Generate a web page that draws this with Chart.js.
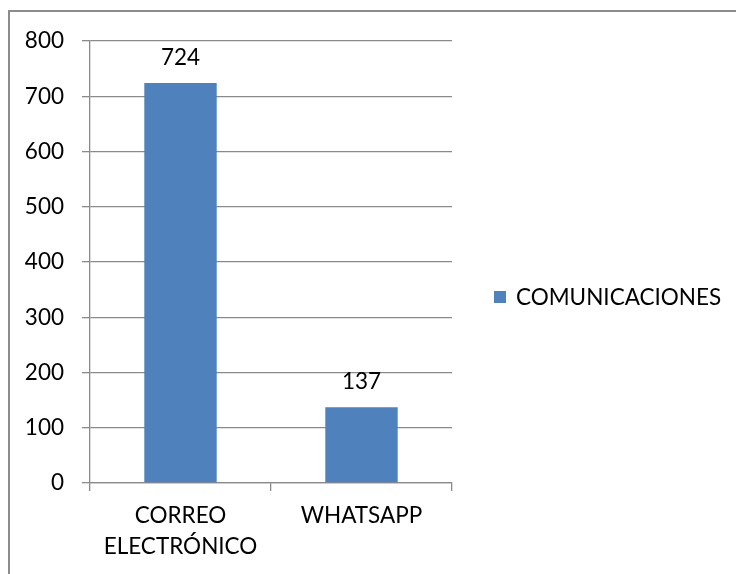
<!DOCTYPE html>
<html>
<head>
<meta charset="utf-8">
<script src="https://cdn.jsdelivr.net/npm/chart.js@4"></script>
<style>
  html, body { margin: 0; padding: 0; background: #fff; }
  .frame { position: absolute; left: 8px; top: 10px; width: 900px; height: 700px;
           border-left: 2px solid #8c8c8c; border-top: 2px solid #8c8c8c; }
  .wrap { position: absolute; left: 0; top: 0; width: 736px; height: 574px; }
</style>
</head>
<body>
<div class="frame"></div>
<div class="wrap"><canvas id="chart" width="736" height="574"></canvas></div>
<script>
const categories = [['CORREO', 'ELECTRÓNICO'], 'WHATSAPP']
const seriesName = 'COMUNICACIONES'
const seriesValues = [724, 137]
const yTicks = { min: 0, max: 800, step: 100 }

const FONT = 'Lato, "Open Sans", sans-serif'
const SIZE = 22.5
const BLUE = '#4F81BD'
const GRID = '#8a8a8a'

const valueLabels = {
  id: 'valueLabels',
  afterDatasetsDraw (chart) {
    const ctx = chart.ctx
    ctx.save()
    ctx.font = SIZE + 'px ' + FONT
    ctx.fillStyle = '#000'
    ctx.textAlign = 'center'
    ctx.textBaseline = 'alphabetic'
    chart.getDatasetMeta(0).data.forEach((bar, i) => {
      ctx.fillText(String(seriesValues[i]), bar.x, bar.y - 18)
    })
    ctx.restore()
  }
}

const sideLegend = {
  id: 'sideLegend',
  afterDraw (chart) {
    const ctx = chart.ctx
    const ds = chart.data.datasets[0]
    const x = chart.chartArea.right + 42
    const y = (chart.chartArea.top + chart.chartArea.bottom) / 2 + 35
    ctx.save()
    ctx.fillStyle = ds.backgroundColor
    ctx.fillRect(x, y - 6, 12, 12)
    ctx.font = SIZE + 'px ' + FONT
    ctx.fillStyle = '#000'
    ctx.textBaseline = 'middle'
    ctx.fillText(ds.label, x + 22, y + 1)
    ctx.restore()
  }
}

new Chart(document.getElementById('chart'), { // eslint-disable-line
  type: 'bar',
  data: {
    labels: categories,
    datasets: [{
      label: seriesName,
      data: seriesValues,
      backgroundColor: BLUE,
      barPercentage: 0.4,
      categoryPercentage: 1
    }]
  },
  options: {
    responsive: false,
    animation: false,
    layout: { padding: { top: 41, right: 284, left: 0, bottom: 0 } },
    scales: {
      x: {
        afterFit (scale) { scale.height = 91 },
        grid: { drawOnChartArea: false, drawTicks: true, tickLength: 8, color: GRID, lineWidth: 1.3 },
        border: { display: true, color: GRID, width: 1.3 },
        ticks: { color: '#000', font: { family: FONT, size: SIZE, lineHeight: 1.35 }, padding: 10, maxRotation: 0 }
      },
      y: {
        min: yTicks.min,
        max: yTicks.max,
        afterFit (scale) { scale.width = 90 },
        grid: { color: GRID, lineWidth: 1.3, tickLength: 8 },
        border: { display: true, color: GRID, width: 1.3 },
        ticks: { stepSize: yTicks.step, color: '#000', font: { family: FONT, size: SIZE }, padding: 18 }
      }
    },
    plugins: {
      legend: { display: false },
      tooltip: { enabled: false }
    }
  },
  plugins: [valueLabels, sideLegend]
})
</script>
</body>
</html>
